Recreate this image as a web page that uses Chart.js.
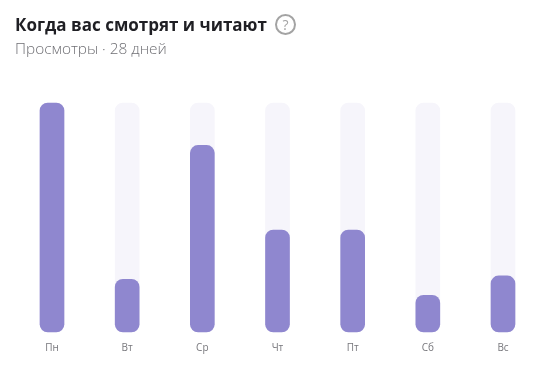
<!DOCTYPE html>
<html lang="ru">
<head>
<meta charset="utf-8">
<title>Когда вас смотрят и читают</title>
<script src="https://cdn.jsdelivr.net/npm/chart.js@4"></script>
<style>
    html, body { margin: 0; padding: 0; background: #fff; overflow: hidden; }
    #wrap { position: relative; width: 538px; height: 367px; font-family: "Open Sans", "Noto Sans", sans-serif; }
    #chart { position: absolute; left: 0; top: 0; }
    #title { position: absolute; left: 15px; top: 13px; font-size: 17px; line-height: 24px; font-weight: 700; color: #1f1f24; white-space: nowrap; }
    #subtitle { position: absolute; left: 15px; top: 39px; font-size: 15.4px; line-height: 20px; font-weight: 300; color: #6f6f74; white-space: nowrap; }
    #help { position: absolute; left: 275px; top: 14px; width: 17px; height: 17px; border: 2px solid #a3a3a3; border-radius: 50%; color: #a3a3a3; font-size: 14px; line-height: 17px; text-align: center; }
</style>
</head>
<body>
<div id="wrap">
    <canvas id="chart" width="538" height="367"></canvas>
    <div id="title">Когда вас смотрят и читают</div>
    <div id="help">?</div>
    <div id="subtitle">Просмотры · 28 дней</div>
</div>
<script>
// значения (в % от максимума)
const days = ['Пн', 'Вт', 'Ср', 'Чт', 'Пт', 'Сб', 'Вс'];
const views = [100, 23, 81.5, 44.5, 44.5, 16, 24.5];
const track = [100, 100, 100, 100, 100, 100, 100];

new Chart(document.getElementById('chart'), {
    type: 'bar',
    data: {
        labels: days,
        datasets: [
            { data: views, backgroundColor: '#8f87cf', order: 1 },
            { data: track, backgroundColor: '#f6f5fb', order: 2 }
        ]
    },
    options: {
        responsive: false,
        animation: false,
        layout: { padding: { left: 52, right: 35, top: 103, bottom: 11 } },
        plugins: { legend: { display: false }, tooltip: { enabled: false } },
        datasets: {
            bar: {
                grouped: false,
                barThickness: 24,
                borderRadius: 8,
                borderSkipped: false,
                clip: false
            }
        },
        scales: {
            x: {
                offset: false,
                grid: { display: false },
                border: { display: false },
                ticks: {
                    autoSkip: false,
                    maxRotation: 0,
                    padding: 2,
                    color: '#77777c',
                    font: { family: '"Open Sans", "Noto Sans", sans-serif', size: 10 }
                }
            },
            y: {
                display: false,
                min: 0,
                max: 100
            }
        }
    }
});
</script>
</body>
</html>
